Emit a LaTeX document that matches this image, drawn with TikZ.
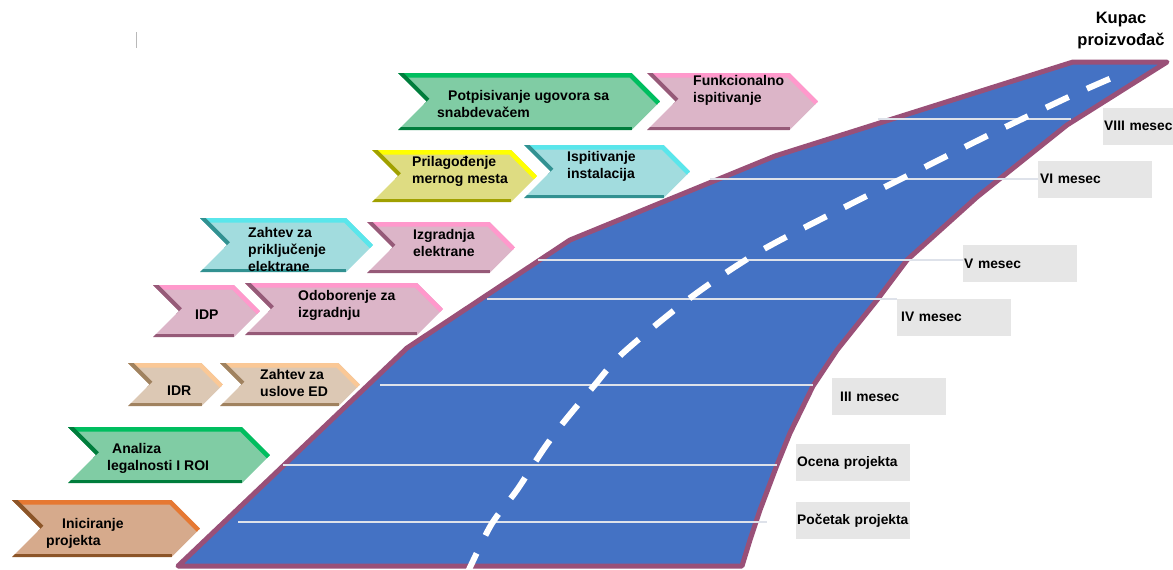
\documentclass[tikz,border=0pt]{standalone}
\usepackage{fontspec}
\setmainfont{Liberation Sans}
\usetikzlibrary{positioning, calc}

\definecolor{roadblue}{RGB}{68,114,196}
\definecolor{roadedge}{RGB}{153,80,120}
\definecolor{laneline}{RGB}{222,226,234}
\definecolor{lblgrey}{RGB}{230,230,230}
\definecolor{grnfill}{RGB}{128,204,164}
\definecolor{grnlite}{RGB}{0,190,95}
\definecolor{grndark}{RGB}{0,125,60}
\definecolor{pnkfill}{RGB}{220,181,200}
\definecolor{pnklite}{RGB}{255,153,204}
\definecolor{pnkdark}{RGB}{150,90,120}
\definecolor{cynfill}{RGB}{162,220,222}
\definecolor{cynlite}{RGB}{90,230,235}
\definecolor{cyndark}{RGB}{50,145,145}
\definecolor{ylwfill}{RGB}{222,220,130}
\definecolor{ylwlite}{RGB}{255,255,0}
\definecolor{ylwdark}{RGB}{160,160,0}
\definecolor{orgfill}{RGB}{214,170,140}
\definecolor{orglite}{RGB}{230,120,50}
\definecolor{orgdark}{RGB}{140,85,40}
\definecolor{pchfill}{RGB}{220,200,180}
\definecolor{pchlite}{RGB}{250,200,150}
\definecolor{pchdark}{RGB}{160,130,95}

% chevron: name, x, y, width, height, colour set, text x, text y, text
\newcommand{\chev}[9]{%
  \begin{scope}[shift={(#2,#3)}]
    \coordinate (#1c) at (0,0);
    \begin{scope}
      \clip (0,0) -- (#4-0.5*#5,0) -- (#4,0.5*#5) -- (#4-0.5*#5,#5) -- (0,#5) -- (0.5*#5,0.5*#5) -- cycle;
      \fill[#6fill] (0,0) rectangle (#4,#5);
      \draw[#6lite, line width=9pt] (0,0) -- (#4-0.5*#5,0) -- (#4,0.5*#5);
      \draw[#6dark, line width=7pt] (0,#5) -- (#4-0.5*#5,#5);
      \draw[#6dark, line width=8pt] (0,0) -- (0.5*#5,0.5*#5);
    \end{scope}
  \end{scope}
  \node (#1) [chevtxt] at (#7,#8) {#9};
}

\begin{document}
\begin{tikzpicture}[x=1pt, y=-1pt]
  \tikzstyle{chevtxt} = [anchor=west, align=left, inner sep=0pt, font=\bfseries\fontsize{14}{17}\selectfont]
  \tikzstyle{mlabel} = [anchor=west, fill=lblgrey, minimum height=37pt, text width=112pt, inner xsep=1pt, inner ysep=0pt, align=left,
                        font=\bfseries\fontsize{13.8}{17}\selectfont, execute at begin node={\hyphenpenalty=10000}]
  \tikzstyle{lane} = [draw=laneline, line width=1.8pt]
  \tikzstyle{roadside} = [draw=roadedge, fill=roadblue, line width=5pt, line join=round]
  \tikzstyle{midline} = [draw=white, line width=6pt, dash pattern=on 25pt off 20pt]

  \useasboundingbox (0,0) rectangle (1173,570);
  \clip (0,0) rectangle (1173,570);

  % cursor mark
  \draw[gray!55, line width=1pt] (136,32) -- (136,48);

  % Road
  \coordinate (bl) at (178,566);
  \coordinate (l1) at (407,348);
  \coordinate (l2) at (570,240);
  \coordinate (l3) at (775,156);
  \coordinate (tl) at (1073,62);
  \coordinate (tr) at (1167,62);
  \coordinate (br) at (742,566);
  \draw[roadside] (bl) -- (l1) -- (l2) -- (l3) -- (tl) -- (tr)
    -- (1067,125) -- (977,197) -- (907,260) -- (877,300) -- (837,350)
    -- (813,386) -- (790,433) -- (777,465) -- (760,510) -- (750,540) -- (br) -- cycle;

  % Month lines
  \draw[lane] (878,119) -- (1071,119);
  \draw[lane] (710,179) -- (1038,179);
  \draw[lane] (538,260) -- (963,260);
  \draw[lane] (487,299) -- (897,299);
  \draw[lane] (380,385) -- (813,385);
  \draw[lane] (283,465) -- (777,465);
  \draw[lane] (238,522) -- (767,522);

  % Middle line
  \draw[midline] plot[smooth] coordinates {(466,576) (491,525) (517,490) (543,450) (563,423) (593,387) (623,353) (690,298) (757,253) (833,213) (913,173) (993,133) (1073,95) (1121,74)};

  % Month labels
  \node (m8) [mlabel] at (1103,126) {VIII mesec};
  \node (m6) [mlabel] at (1038,179) {\hspace*{1pt}VI mesec};
  \node (m5) [mlabel] at (963,263.5) {V mesec};
  \node (m4) [mlabel] at (897,317) {\hspace*{3pt}IV mesec};
  \node (m3) [mlabel] at (832,396.5) {\hspace*{7pt}III mesec};
  \node (ocena) [mlabel] at (796,462.5) {Ocena projekta};
  \node (pocetak) [mlabel] at (796,520.5) {Početak projekta};

  \node (kupac) [align=center, inner sep=0pt, font=\bfseries\fontsize{16.5}{22}\selectfont] at (1121,31) {Kupac\\proizvođač};

  % Steps
  \chev{inic}{12}{500}{188}{57}{org}{46}{533.5}{\hspace*{16pt}Iniciranje\\projekta}
  \chev{anal}{68}{427}{202}{56}{grn}{107}{458}{\hspace*{5pt}Analiza\\legalnosti I ROI}
  \chev{idr}{128}{363}{95}{43}{pch}{167}{391}{IDR}
  \chev{uslo}{220}{363}{140}{43}{pch}{260}{383}{Zahtev za\\uslove ED}
  \chev{idp}{153}{285}{107}{52}{pnk}{195}{315}{IDP}
  \chev{odob}{245}{283}{198}{52}{pnk}{298}{305}{Odoborenje za\\izgradnju}
  \chev{zpri}{200}{218}{173}{54}{cyn}{248}{249.5}{Zahtev za\\priključenje\\elektrane}
  \chev{izgr}{367}{222}{148}{51}{pnk}{413}{242.5}{Izgradnja\\elektrane}
  \chev{pril}{372}{150}{165}{52}{ylw}{412}{171}{Prilagođenje\\mernog mesta}
  \chev{ispi}{524}{145}{166}{53}{cyn}{567}{166.5}{Ispitivanje\\instalacija}
  \chev{potp}{398}{73}{262}{57}{grn}{437}{103.5}{\hspace*{11pt}Potpisivanje ugovora sa\\snabdevačem}
  \chev{funk}{647}{73}{171}{57}{pnk}{693}{90.5}{Funkcionalno\\ispitivanje}
\end{tikzpicture}
\end{document}
